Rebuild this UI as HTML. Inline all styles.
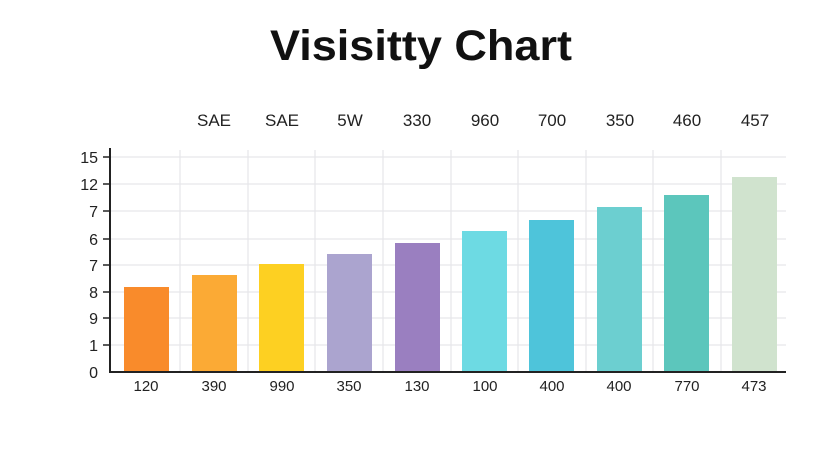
<!DOCTYPE html>
<html><head><style>
body{margin:0;background:#fff;width:832px;height:448px;overflow:hidden}
</style></head><body>
<svg width="832" height="448" xmlns="http://www.w3.org/2000/svg" font-family="Liberation Sans, sans-serif">
<rect width="832" height="448" fill="#fff"/>
<text x="421" y="60" text-anchor="middle" font-size="43" font-weight="bold" fill="#111" textLength="302" lengthAdjust="spacingAndGlyphs">Visisitty Chart</text>
<g stroke="#e6e6ea" stroke-width="1.2">
<line x1="110" y1="157" x2="786" y2="157"/><line x1="110" y1="184" x2="786" y2="184"/>
<line x1="110" y1="211" x2="786" y2="211"/><line x1="110" y1="239" x2="786" y2="239"/>
<line x1="110" y1="265" x2="786" y2="265"/><line x1="110" y1="292" x2="786" y2="292"/>
<line x1="110" y1="318" x2="786" y2="318"/><line x1="110" y1="345" x2="786" y2="345"/>
<line x1="180" y1="150" x2="180" y2="372"/><line x1="248" y1="150" x2="248" y2="372"/>
<line x1="315" y1="150" x2="315" y2="372"/><line x1="383" y1="150" x2="383" y2="372"/>
<line x1="451" y1="150" x2="451" y2="372"/><line x1="518" y1="150" x2="518" y2="372"/>
<line x1="586" y1="150" x2="586" y2="372"/><line x1="653" y1="150" x2="653" y2="372"/>
<line x1="721" y1="150" x2="721" y2="372"/>
</g>
<rect x="124" y="287" width="45" height="85" fill="#F98B2B"/>
<rect x="192" y="275" width="45" height="97" fill="#FBAA35"/>
<rect x="259" y="264" width="45" height="108" fill="#FDD022"/>
<rect x="327" y="254" width="45" height="118" fill="#ABA4CF"/>
<rect x="395" y="243" width="45" height="129" fill="#9A7FC0"/>
<rect x="462" y="231" width="45" height="141" fill="#6DDAE3"/>
<rect x="529" y="220" width="45" height="152" fill="#4EC4DA"/>
<rect x="597" y="207" width="45" height="165" fill="#6CCFD0"/>
<rect x="664" y="195" width="45" height="177" fill="#5CC6BC"/>
<rect x="732" y="177" width="45" height="195" fill="#D0E3CE"/>
<g stroke="#222" stroke-width="2"><line x1="110" y1="148" x2="110" y2="373"/><line x1="109" y1="372" x2="786" y2="372"/></g>
<g stroke="#222" stroke-width="1.5">
<line x1="103" y1="157" x2="110" y2="157"/><line x1="103" y1="184" x2="110" y2="184"/><line x1="103" y1="211" x2="110" y2="211"/>
<line x1="103" y1="239" x2="110" y2="239"/><line x1="103" y1="265" x2="110" y2="265"/><line x1="103" y1="292" x2="110" y2="292"/>
<line x1="103" y1="318" x2="110" y2="318"/><line x1="103" y1="345" x2="110" y2="345"/>
</g>
<g font-size="16" fill="#222" text-anchor="end">
<text x="98" y="163">15</text><text x="98" y="190">12</text><text x="98" y="217">7</text><text x="98" y="245">6</text>
<text x="98" y="271">7</text><text x="98" y="298">8</text><text x="98" y="324">9</text><text x="98" y="351">1</text><text x="98" y="378">0</text>
</g>
<g font-size="15" fill="#222" text-anchor="middle">
<text x="146" y="391">120</text><text x="214" y="391">390</text><text x="282" y="391">990</text><text x="349" y="391">350</text>
<text x="417" y="391">130</text><text x="485" y="391">100</text><text x="552" y="391">400</text><text x="619" y="391">400</text>
<text x="687" y="391">770</text><text x="754" y="391">473</text>
</g>
<g font-size="17" fill="#222" text-anchor="middle">
<text x="214" y="126">SAE</text><text x="282" y="126">SAE</text><text x="350" y="126">5W</text><text x="417" y="126">330</text>
<text x="485" y="126">960</text><text x="552" y="126">700</text><text x="620" y="126">350</text><text x="687" y="126">460</text><text x="755" y="126">457</text>
</g>
</svg>
</body></html>
